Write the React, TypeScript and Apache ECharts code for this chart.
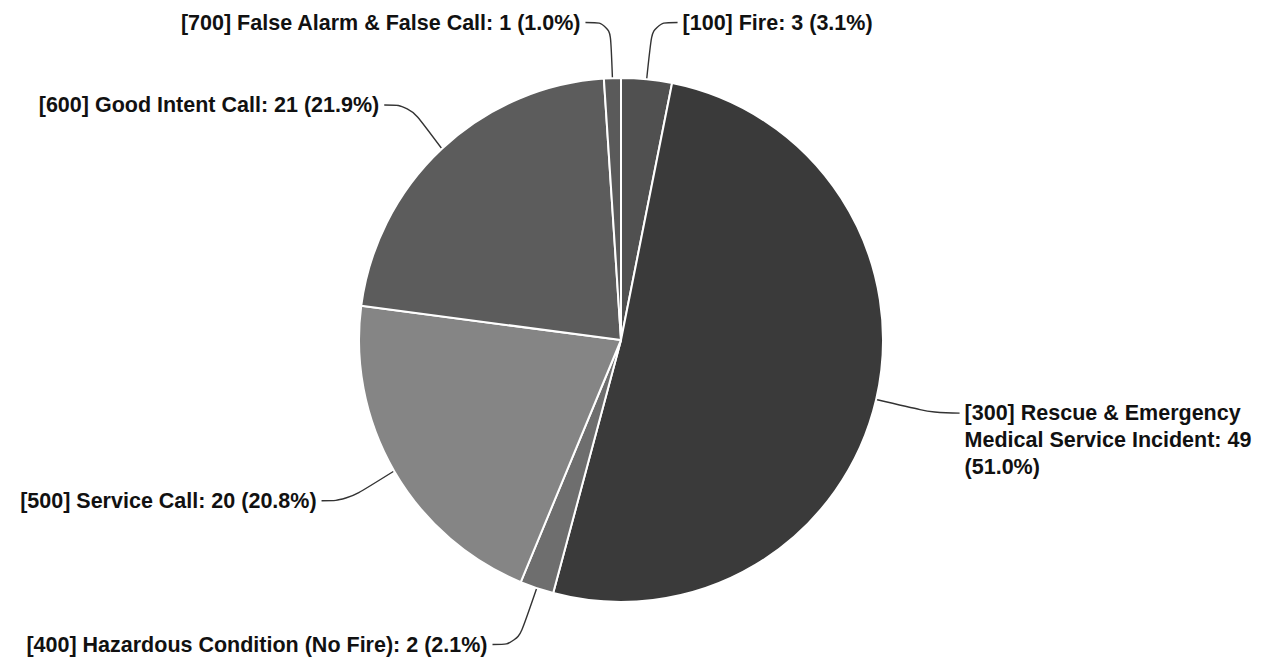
import React, { useEffect, useRef } from "react";
import * as echarts from "echarts";

const categories = [
  "[100] Fire",
  "[300] Rescue & Emergency Medical Service Incident",
  "[400] Hazardous Condition (No Fire)",
  "[500] Service Call",
  "[600] Good Intent Call",
  "[700] False Alarm & False Call",
];
const counts = [3, 49, 2, 20, 21, 1];
const percents = ["3.1%", "51.0%", "2.1%", "20.8%", "21.9%", "1.0%"];
const colors = ["#505050", "#3a3a3a", "#6e6e6e", "#858585", "#5c5c5c", "#5a5a5a"];

export default function App() {
  const ref = useRef<HTMLDivElement>(null);
  useEffect(() => {
    if (!ref.current) return;
    const chart = echarts.init(ref.current, null, { renderer: "svg" });
    const data = categories.map((name, i) => {
      const item: any = {
        name,
        value: counts[i],
        itemStyle: { color: colors[i] },
      };
      if (i === 1) {
        item.label = { width: 300, overflow: "break" };
      }
      return item;
    });
    chart.setOption({
      animation: false,
      backgroundColor: "#ffffff",
      series: [
        {
          type: "pie",
          center: [613, 332],
          radius: 262,
          startAngle: 90,
          clockwise: true,
          data,
          itemStyle: { borderColor: "#ffffff", borderWidth: 2 },
          label: {
            show: true,
            position: "outside",
            fontFamily: "Liberation Sans, Arial, sans-serif",
            fontWeight: "bold",
            fontSize: 21.5,
            lineHeight: 27,
            color: "#111111",
            formatter: (p: any) =>
              (p.dataIndex === 1 ? "\n\n" : "") +
              `${p.name}: ${p.value} (${percents[p.dataIndex]})`,
          },
          labelLine: {
            show: true,
            length: 60,
            length2: 25,
            smooth: 0.4,
            lineStyle: { color: "#333333", width: 1.4 },
          },
          emphasis: { disabled: true },
        },
      ],
    });
    return () => chart.dispose();
  }, []);
  return <div ref={ref} style={{ width: 1249, height: 651 }} />;
}
